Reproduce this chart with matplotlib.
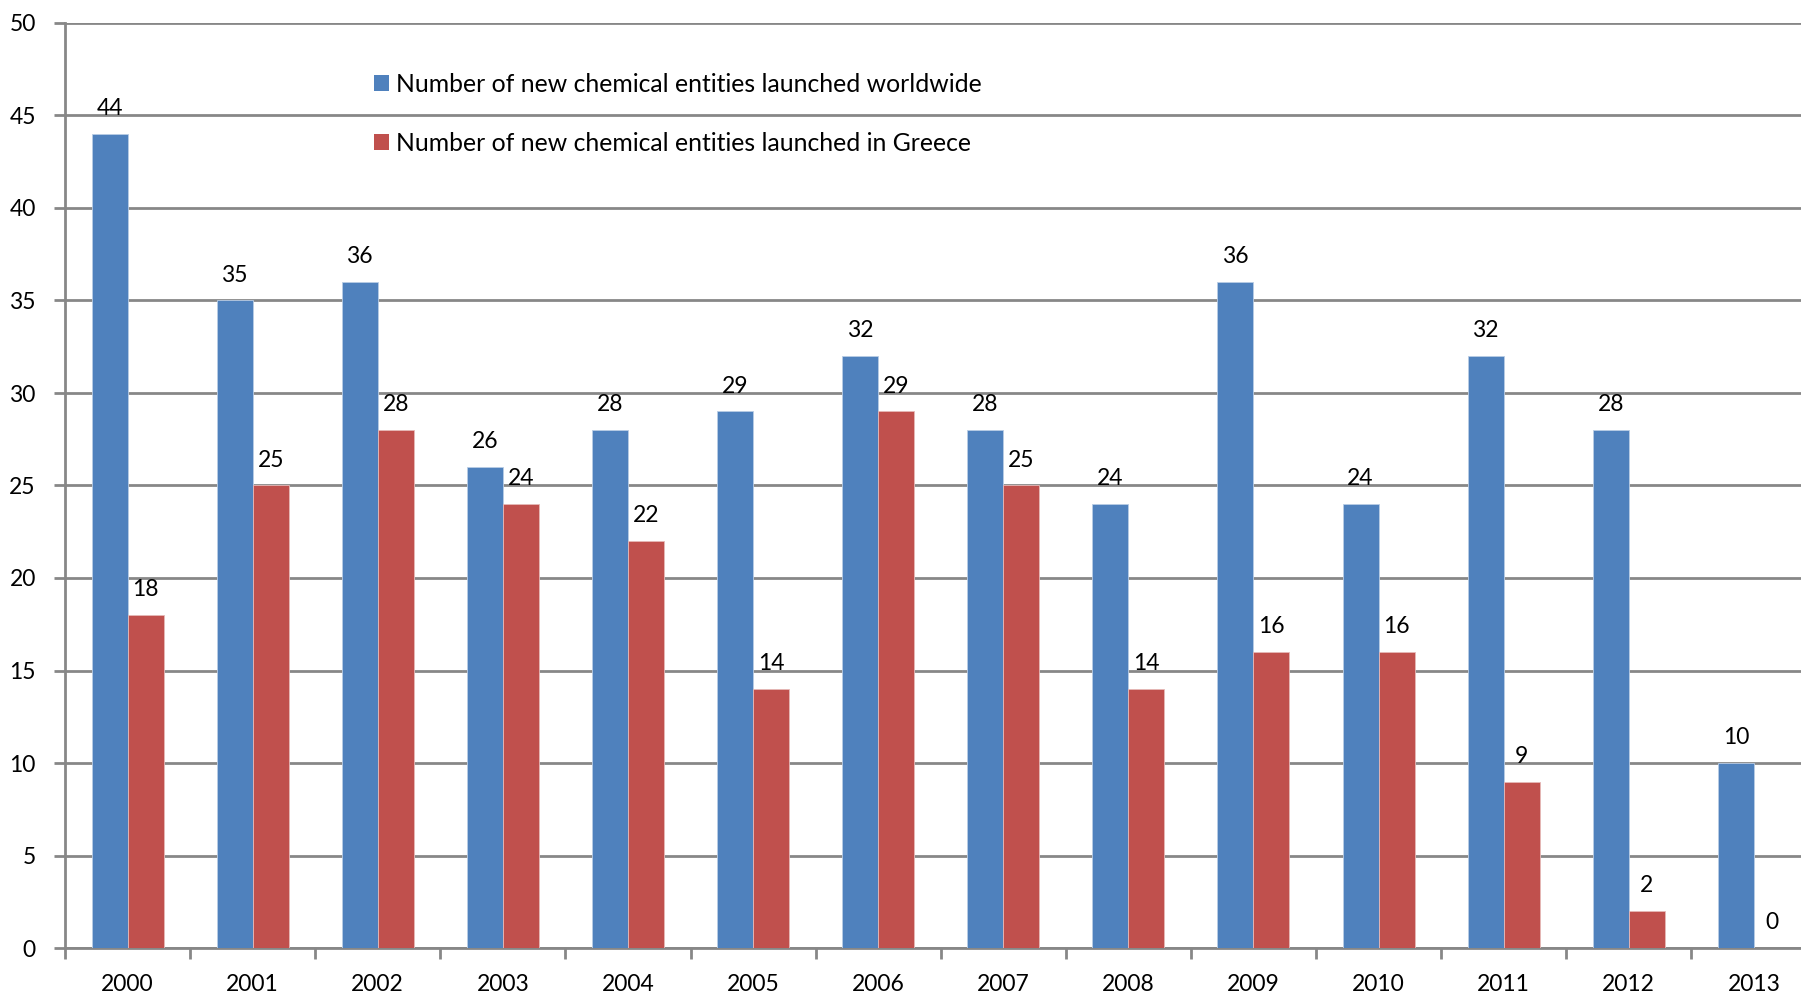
import matplotlib
matplotlib.use("Agg")
import matplotlib.pyplot as plt
from matplotlib.patches import Patch
import numpy as np

years = ["2000", "2001", "2002", "2003", "2004", "2005", "2006",
         "2007", "2008", "2009", "2010", "2011", "2012", "2013"]
worldwide = [44, 35, 36, 26, 28, 29, 32, 28, 24, 36, 24, 32, 28, 10]
greece = [18, 25, 28, 24, 22, 14, 29, 25, 14, 16, 16, 9, 2, 0]
series_names = ["Number of new chemical entities launched worldwide",
                "Number of new chemical entities launched in Greece"]

BLUE = "#4F81BD"
RED = "#C0504D"
GRID = "#878787"
FONT = ["Lato", "DejaVu Sans"]

plt.rcParams["font.family"] = FONT

W, H = 1801, 997
fig = plt.figure(figsize=(W / 100, H / 100), dpi=100)
left_px, right_px, top_px, bottom_px = 65, 1801, 23, 948
ax = fig.add_axes([left_px / W, 1 - bottom_px / H,
                   (right_px - left_px) / W, (bottom_px - top_px) / H])

cat_px = 125.1
x = np.arange(len(years))
bw = 36 / cat_px
b1 = ax.bar(x - bw / 2, worldwide, width=bw, color=BLUE, zorder=3,
            edgecolor="#B9CDE5", linewidth=0.6)
b2 = ax.bar(x + bw / 2, greece, width=bw, color=RED, zorder=3,
            edgecolor="#E6B9B8", linewidth=0.6)

for bars, vals in ((b1, worldwide), (b2, greece)):
    for r, v in zip(bars, vals):
        ax.annotate(str(v), (r.get_x() + r.get_width() / 2, v),
                    xytext=(0, 13.5), textcoords="offset points",
                    ha="center", va="baseline", fontsize=16.5, color="black")

ax.set_yticks(np.arange(0, 51, 5))
ax.set_xticks(np.arange(-0.5, len(years), 1.0))
ax.set_xticklabels([])
ax.set_xticks(x, minor=True)
ax.set_xticklabels(years, minor=True)
ax.set_ylim(0, 50)
ax.set_xlim(-0.5, -0.5 + (right_px - left_px) / cat_px)
ax.tick_params(axis="x", which="major", length=8, width=2, color=GRID, direction="out")
ax.tick_params(axis="x", which="minor", length=0, pad=19, labelsize=16.5)
ax.tick_params(axis="y", length=8, width=2, color=GRID, direction="out", pad=13, labelsize=16.5)

ax.yaxis.grid(True, color=GRID, linewidth=2, zorder=0)
ax.set_axisbelow(True)
for s in ("top", "right"):
    ax.spines[s].set_visible(False)
for s in ("left", "bottom"):
    ax.spines[s].set_color(GRID)
    ax.spines[s].set_linewidth(2)

handles = [Patch(facecolor=BLUE, edgecolor="none"), Patch(facecolor=RED, edgecolor="none")]
ax.legend(handles, series_names, loc="upper left",
          bbox_to_anchor=(374 / W, 1 - 73 / H), bbox_transform=fig.transFigure,
          frameon=False, fontsize=17.8, handlelength=0.6, handleheight=0.6,
          handletextpad=0.28, labelspacing=1.44, borderaxespad=0, borderpad=0)

fig.savefig("out.png", dpi=100)
